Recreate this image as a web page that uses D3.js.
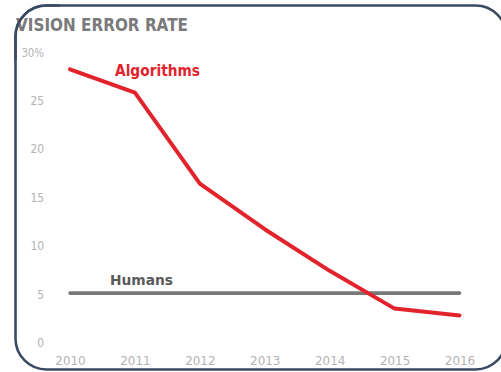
<!DOCTYPE html>
<html>
<head>
<meta charset="utf-8">
<script src="https://cdn.jsdelivr.net/npm/d3@7"></script>
<style>
  html, body { margin: 0; padding: 0; background: #fff; }
  svg { display: block; }
  .tick text { font-family: "DejaVu Sans", sans-serif; fill: #b3b3b3; font-size: 12.5px; }
</style>
</head>
<body>
<svg id="chart" width="501" height="372"></svg>
<script>
// Top-5 error rate on the image-recognition benchmark, percent
const years = [2010, 2011, 2012, 2013, 2014, 2015, 2016];
const algorithms = [28.2, 25.8, 16.4, 11.7, 7.4, 3.5, 2.8];
const humanYears = [2010, 2016];
const humans = [5.1, 5.1];
const yTicks = [0, 5, 10, 15, 20, 25, 30];
const yTickLabels = ["0", "5", "10", "15", "20", "25", "30%"];

const svg = d3.select("#chart");
const sans = '"DejaVu Sans", sans-serif';

const x = d3.scaleLinear().domain([2010, 2016]).range([70, 459.5]);
const y = d3.scaleLinear().domain([0, 30]).range([342.5, 52]);

// Narrow the digits so the labels read as a condensed face
const squeeze = (sel, perDigit) => sel.selectAll(".tick text")
  .attr("textLength", function () {
    const t = this.textContent;
    return t.replace("%", "").length * perDigit + (t.includes("%") ? 9 : 0);
  })
  .attr("lengthAdjust", "spacingAndGlyphs");

// Card frame (its right edge runs just past the view)
svg.append("rect")
  .attr("x", 15.5).attr("y", 5.5)
  .attr("width", 491).attr("height", 364)
  .attr("rx", 31).attr("ry", 31)
  .attr("fill", "#fff")
  .attr("stroke", "#3b4a63")
  .attr("stroke-width", 2.6);

// Title (partly tucked under the frame on the left)
svg.append("text")
  .attr("x", 16).attr("y", 30.5)
  .attr("font-family", sans)
  .attr("font-weight", "bold")
  .attr("font-size", 17)
  .attr("fill", "#7a7a7a")
  .attr("textLength", 172)
  .attr("lengthAdjust", "spacingAndGlyphs")
  .text("VISION ERROR RATE");

// Redraw the left edge of the frame over the title
svg.append("path")
  .attr("d", "M15.5,60 L15.5,36.5 A31,31 0 0 1 46.5,5.5 L60,5.5")
  .attr("fill", "none")
  .attr("stroke", "#3b4a63")
  .attr("stroke-width", 2.6);

// Axes: labels only
const yAxis = d3.axisLeft(y)
  .tickValues(yTicks)
  .tickFormat((d, i) => yTickLabels[i])
  .tickSize(0).tickPadding(1);
svg.append("g").attr("transform", "translate(45,0)").call(yAxis)
  .call(g => g.select(".domain").remove())
  .call(g => squeeze(g, 6.8));

const xAxis = d3.axisBottom(x)
  .tickValues(years)
  .tickFormat(d3.format("d"))
  .tickSize(0).tickPadding(6.5);
svg.append("g").attr("transform", "translate(0,350)").call(xAxis)
  .call(g => g.select(".domain").remove())
  .call(g => squeeze(g, 7.6));

const line = d3.line().x(d => x(d[0])).y(d => y(d[1]));

// Human benchmark
svg.append("path")
  .datum(humanYears.map((yr, i) => [yr, humans[i]]))
  .attr("d", line)
  .attr("fill", "none")
  .attr("stroke", "#787878")
  .attr("stroke-width", 3.6)
  .attr("stroke-linecap", "round");

svg.append("text")
  .attr("x", 110).attr("y", 285)
  .attr("font-family", sans)
  .attr("font-weight", "bold")
  .attr("font-size", 14)
  .attr("fill", "#5a5a5a")
  .attr("textLength", 63)
  .attr("lengthAdjust", "spacingAndGlyphs")
  .text("Humans");

// Algorithm error rate
svg.append("path")
  .datum(years.map((yr, i) => [yr, algorithms[i]]))
  .attr("d", line)
  .attr("fill", "none")
  .attr("stroke", "#e2232c")
  .attr("stroke-width", 4)
  .attr("stroke-linecap", "round")
  .attr("stroke-linejoin", "round");

svg.append("text")
  .attr("x", 115).attr("y", 76)
  .attr("font-family", sans)
  .attr("font-weight", "bold")
  .attr("font-size", 15)
  .attr("fill", "#e2232c")
  .attr("textLength", 85)
  .attr("lengthAdjust", "spacingAndGlyphs")
  .text("Algorithms");
</script>
</body>
</html>
